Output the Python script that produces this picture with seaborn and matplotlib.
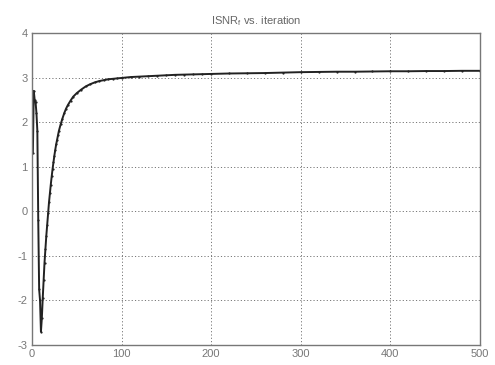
import matplotlib
matplotlib.use("Agg")
import matplotlib.pyplot as plt
import seaborn as sns
import pandas as pd

iterations = [1, 2, 3, 4, 5, 6, 7, 8, 9, 10, 11, 12, 13, 14, 15, 16, 17, 18, 19, 20,
              21, 22, 23, 24, 25, 26, 27, 28, 29, 30, 32, 34, 36, 38, 40, 43, 46, 50,
              55, 60, 65, 70, 75, 80, 85, 90, 95, 100, 110, 120, 130, 140, 150, 160,
              170, 180, 190, 200, 220, 240, 260, 280, 300, 320, 340, 360, 380, 400,
              420, 440, 460, 480, 500]
isnr = [1.3, 2.7, 2.5, 2.45, 2.2, 1.8, -0.2, -1.75, -2.0, -2.7, -2.4, -1.95, -1.55,
        -1.15, -0.85, -0.55, -0.3, -0.05, 0.2, 0.4, 0.6, 0.78, 0.95, 1.1, 1.25, 1.38,
        1.5, 1.6, 1.7, 1.8, 1.95, 2.08, 2.2, 2.3, 2.38, 2.48, 2.57, 2.65, 2.73, 2.8,
        2.85, 2.89, 2.92, 2.94, 2.96, 2.97, 2.98, 2.99, 3.01, 3.02, 3.03, 3.04, 3.05,
        3.06, 3.065, 3.07, 3.075, 3.08, 3.09, 3.095, 3.1, 3.11, 3.12, 3.125, 3.13,
        3.13, 3.135, 3.14, 3.14, 3.145, 3.145, 3.15, 3.15]

x_ticks = [0, 100, 200, 300, 400, 500]
y_ticks = [-3, -2, -1, 0, 1, 2, 3, 4]
title = "ISNR$_f$ vs. iteration"

df = pd.DataFrame({"iteration": iterations, "ISNR": isnr})

sns.set_style("white")
plt.rcParams["font.family"] = ["Liberation Sans", "DejaVu Sans"]
plt.rcParams["mathtext.fontset"] = "custom"
plt.rcParams["mathtext.rm"] = "Liberation Sans"
plt.rcParams["mathtext.it"] = "Liberation Sans"
plt.rcParams["axes.unicode_minus"] = False

fig = plt.figure(figsize=(4.95, 3.65), dpi=100)
ax = fig.add_axes([0.0646, 0.0548, 0.905, 0.855])

sns.lineplot(data=df, x="iteration", y="ISNR", ax=ax, color="#222222",
             linewidth=1.4, marker=".", markersize=3.2, markeredgewidth=0,
             estimator=None, sort=False)

ax.set_xlim(0, 500)
ax.set_ylim(-3, 4)
ax.set_xticks(x_ticks)
ax.set_yticks(y_ticks)
ax.set_xlabel("")
ax.set_ylabel("")
ax.grid(True, linestyle=(0, (1.2, 2.2)), color="#777777", linewidth=0.7)
ax.tick_params(direction="in", length=3, labelsize=8, colors="#888888",
               labelcolor="#777777", pad=3)
for s in ax.spines.values():
    s.set_color("#777777")
    s.set_linewidth(1.0)
ax.set_title(title, fontsize=8, color="#666666", pad=6)

fig.savefig("out.png", dpi=100)
